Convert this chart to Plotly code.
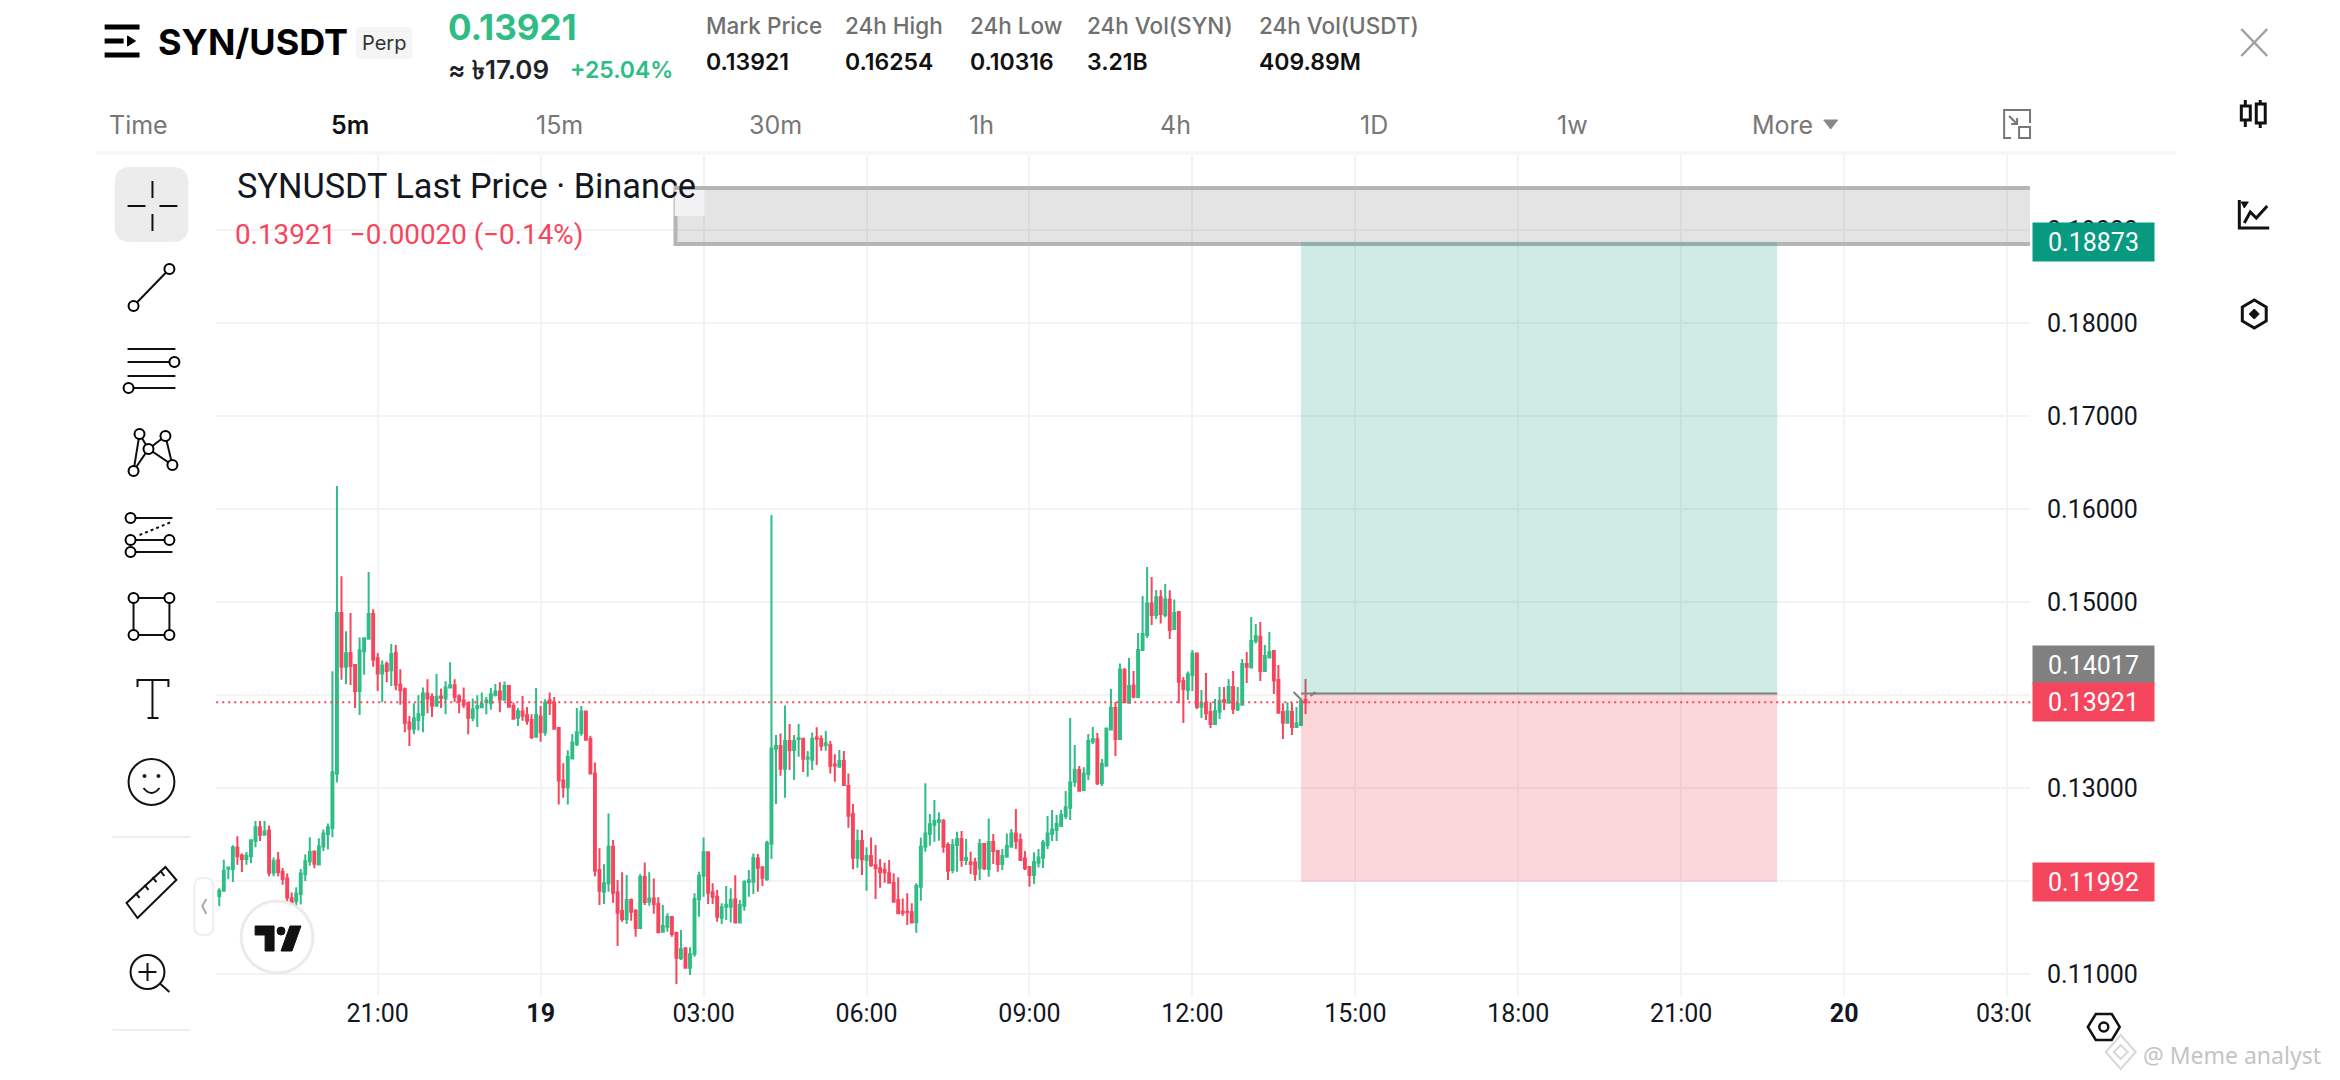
import pandas as pd
import plotly.graph_objects as go

WIDTH = 2340
HEIGHT = 1080

# prices, one value per candle from 18:05 to 14:05 next day
opens = [
    0.11840, 0.11896, 0.12133, 0.12129, 0.12359, 0.12274, 0.12237, 0.12266, 0.12429, 0.12577,
    0.12496, 0.12544, 0.12089, 0.12222, 0.12099, 0.12026, 0.11814, 0.11785, 0.11859, 0.12074,
    0.12211, 0.12318, 0.12177, 0.12370, 0.12503, 0.12570, 0.13152, 0.14881, 0.14304, 0.14452,
    0.14322, 0.14044, 0.14470, 0.14604, 0.14870, 0.14396, 0.14230, 0.14333, 0.14267, 0.14452,
    0.14111, 0.14063, 0.13704, 0.13637, 0.13730, 0.13785, 0.14015, 0.13978, 0.13885, 0.13985,
    0.13963, 0.14081, 0.14104, 0.13985, 0.13941, 0.13915, 0.13755, 0.13859, 0.13867, 0.13926,
    0.13911, 0.14000, 0.14037, 0.13948, 0.14096, 0.13881, 0.13755, 0.13822, 0.13785, 0.13730,
    0.13552, 0.13770, 0.13600, 0.13944, 0.13918, 0.13644, 0.13081, 0.13007, 0.13318, 0.13470,
    0.13592, 0.13822, 0.13526, 0.13155, 0.12118, 0.11885, 0.11975, 0.12369, 0.11878, 0.11677,
    0.11591, 0.11795, 0.11677, 0.11494, 0.12043, 0.11777, 0.11813, 0.11752, 0.11455, 0.11509,
    0.11613, 0.11444, 0.11168, 0.11276, 0.11068, 0.11215, 0.11803, 0.12057, 0.12308, 0.11878,
    0.11831, 0.11606, 0.11724, 0.11724, 0.11803, 0.11555, 0.11735, 0.11989, 0.11993, 0.12243,
    0.12147, 0.12018, 0.12401, 0.13423, 0.13451, 0.13208, 0.13505, 0.13408, 0.13523, 0.13530,
    0.13315, 0.13304, 0.13544, 0.13527, 0.13462, 0.13462, 0.13254, 0.13229, 0.13290, 0.13021,
    0.12720, 0.12251, 0.12430, 0.12226, 0.12269, 0.12168, 0.12136, 0.12118, 0.12082, 0.11982,
    0.11795, 0.11670, 0.11670, 0.11663, 0.11559, 0.11939, 0.12369, 0.12505, 0.12605, 0.12638,
    0.12645, 0.12387, 0.12118, 0.12387, 0.12451, 0.12226, 0.12200, 0.12200, 0.12136, 0.12398,
    0.12129, 0.12419, 0.12322, 0.12182, 0.12261, 0.12369, 0.12512, 0.12440, 0.12243, 0.12150,
    0.12064, 0.12197, 0.12250, 0.12387, 0.12505, 0.12548, 0.12591, 0.12699, 0.12788, 0.13064,
    0.13193, 0.12978, 0.13150, 0.13501, 0.13523, 0.13050, 0.13240, 0.13630, 0.13860, 0.13526,
    0.14268, 0.13917, 0.14103, 0.13978, 0.14483, 0.14645, 0.14985, 0.14860, 0.15050, 0.14860,
    0.15028, 0.14709, 0.14892, 0.14150, 0.14053, 0.14215, 0.14447, 0.13874, 0.13917, 0.13817,
    0.13688, 0.13820, 0.13946, 0.13917, 0.14085, 0.13845, 0.13896, 0.14333, 0.14297, 0.14580,
    0.14623, 0.14257, 0.14404, 0.14473, 0.14161, 0.13817, 0.13702, 0.13817, 0.13655, 0.13677,
    0.13946,
]
highs = [
    0.11922, 0.12229, 0.12144, 0.12385, 0.12481, 0.12296, 0.12311, 0.12444, 0.12644, 0.12644,
    0.12644, 0.12596, 0.12252, 0.12311, 0.12141, 0.12081, 0.11877, 0.11933, 0.12129, 0.12285,
    0.12470, 0.12322, 0.12459, 0.12555, 0.12618, 0.14255, 0.16248, 0.15278, 0.14685, 0.14881,
    0.14333, 0.14618, 0.14618, 0.15322, 0.14922, 0.14452, 0.14370, 0.14359, 0.14548, 0.14537,
    0.14278, 0.14081, 0.13774, 0.13911, 0.13996, 0.14081, 0.14170, 0.14015, 0.14226, 0.14070,
    0.14148, 0.14352, 0.14170, 0.14007, 0.14081, 0.13922, 0.13963, 0.13996, 0.14026, 0.13978,
    0.14074, 0.14118, 0.14137, 0.14144, 0.14096, 0.13918, 0.13859, 0.13989, 0.13870, 0.13792,
    0.14074, 0.13881, 0.13955, 0.14026, 0.13978, 0.13655, 0.13266, 0.13407, 0.13581, 0.13859,
    0.13881, 0.13826, 0.13563, 0.13274, 0.12351, 0.12179, 0.12727, 0.12441, 0.12011, 0.12093,
    0.12064, 0.11813, 0.11699, 0.12075, 0.12200, 0.12093, 0.12028, 0.11824, 0.11742, 0.11652,
    0.11613, 0.11455, 0.11473, 0.11276, 0.11287, 0.11867, 0.12100, 0.12469, 0.12308, 0.11975,
    0.11903, 0.11760, 0.11946, 0.11921, 0.12061, 0.11795, 0.12007, 0.12118, 0.12297, 0.12290,
    0.12147, 0.12433, 0.15935, 0.13570, 0.13587, 0.13888, 0.13688, 0.13570, 0.13688, 0.13541,
    0.13397, 0.13598, 0.13652, 0.13566, 0.13612, 0.13505, 0.13362, 0.13408, 0.13397, 0.13157,
    0.12828, 0.12555, 0.12548, 0.12362, 0.12469, 0.12387, 0.12236, 0.12197, 0.12226, 0.12082,
    0.12039, 0.11813, 0.11867, 0.11760, 0.11975, 0.12469, 0.13050, 0.12720, 0.12871, 0.12738,
    0.12666, 0.12415, 0.12451, 0.12530, 0.12537, 0.12451, 0.12315, 0.12251, 0.12451, 0.12398,
    0.12673, 0.12505, 0.12322, 0.12344, 0.12512, 0.12559, 0.12774, 0.12512, 0.12322, 0.12154,
    0.12308, 0.12344, 0.12440, 0.12698, 0.12763, 0.12709, 0.12763, 0.12967, 0.13752, 0.13462,
    0.13236, 0.13222, 0.13580, 0.13655, 0.13591, 0.13311, 0.13641, 0.14064, 0.13924, 0.14340,
    0.14290, 0.14397, 0.14257, 0.14666, 0.15064, 0.15376, 0.15268, 0.15128, 0.15128, 0.15193,
    0.15125, 0.15028, 0.14899, 0.14193, 0.14254, 0.14483, 0.14447, 0.14053, 0.14236, 0.13921,
    0.13956, 0.14085, 0.14085, 0.14171, 0.14257, 0.14085, 0.14387, 0.14462, 0.14838, 0.14763,
    0.14784, 0.14537, 0.14677, 0.14483, 0.14322, 0.13910, 0.13921, 0.13913, 0.13870, 0.13964,
    0.14171,
]
lows = [
    0.11729, 0.11896, 0.12018, 0.11989, 0.12174, 0.12096, 0.12174, 0.12192, 0.12363, 0.12429,
    0.12496, 0.12052, 0.12052, 0.12052, 0.11959, 0.11748, 0.11711, 0.11729, 0.11748, 0.12000,
    0.12163, 0.12137, 0.12174, 0.12322, 0.12340, 0.12470, 0.13063, 0.14163, 0.14118, 0.14107,
    0.13859, 0.13785, 0.14218, 0.14604, 0.14304, 0.14044, 0.13922, 0.14137, 0.14096, 0.14052,
    0.13896, 0.13600, 0.13452, 0.13578, 0.13618, 0.13600, 0.13804, 0.13763, 0.13885, 0.13859,
    0.13792, 0.14081, 0.13922, 0.13804, 0.13859, 0.13578, 0.13718, 0.13655, 0.13867, 0.13792,
    0.13841, 0.13985, 0.13815, 0.13948, 0.13874, 0.13744, 0.13667, 0.13722, 0.13681, 0.13526,
    0.13552, 0.13496, 0.13563, 0.13785, 0.13626, 0.12822, 0.12896, 0.12822, 0.13318, 0.13452,
    0.13563, 0.13518, 0.13148, 0.12052, 0.11742, 0.11752, 0.11885, 0.11767, 0.11301, 0.11562,
    0.11537, 0.11573, 0.11401, 0.11487, 0.11742, 0.11734, 0.11649, 0.11448, 0.11455, 0.11455,
    0.11401, 0.10892, 0.11150, 0.11068, 0.10989, 0.11186, 0.11616, 0.11831, 0.11752, 0.11752,
    0.11562, 0.11537, 0.11580, 0.11555, 0.11555, 0.11555, 0.11681, 0.11831, 0.11860, 0.11885,
    0.11946, 0.12004, 0.12236, 0.12828, 0.13132, 0.12896, 0.13193, 0.13086, 0.13337, 0.13172,
    0.13122, 0.13193, 0.13247, 0.13401, 0.13401, 0.13157, 0.13068, 0.13229, 0.13025, 0.12573,
    0.12125, 0.12143, 0.12064, 0.11896, 0.12154, 0.11806, 0.11928, 0.11982, 0.11982, 0.11767,
    0.11652, 0.11627, 0.11527, 0.11552, 0.11444, 0.11788, 0.12315, 0.12380, 0.12423, 0.12433,
    0.12304, 0.12011, 0.12082, 0.12100, 0.12154, 0.12172, 0.12075, 0.12003, 0.12011, 0.12118,
    0.12046, 0.12182, 0.12100, 0.12118, 0.12261, 0.12369, 0.12344, 0.12225, 0.12118, 0.11939,
    0.11967, 0.12146, 0.12139, 0.12344, 0.12430, 0.12430, 0.12584, 0.12666, 0.12655, 0.13014,
    0.12967, 0.12971, 0.13086, 0.13473, 0.13032, 0.13021, 0.13236, 0.13623, 0.13344, 0.13516,
    0.13910, 0.13910, 0.13964, 0.13978, 0.14483, 0.14612, 0.14752, 0.14817, 0.14770, 0.14835,
    0.14602, 0.14709, 0.13910, 0.13698, 0.13946, 0.14042, 0.13849, 0.13752, 0.13731, 0.13645,
    0.13688, 0.13741, 0.13838, 0.13910, 0.13795, 0.13827, 0.13892, 0.14128, 0.14290, 0.14555,
    0.14150, 0.14257, 0.14397, 0.14010, 0.13802, 0.13526, 0.13698, 0.13569, 0.13645, 0.13677,
    0.13795,
]
closes = [
    0.11896, 0.12111, 0.12144, 0.12359, 0.12266, 0.12237, 0.12274, 0.12437, 0.12577, 0.12496,
    0.12533, 0.12089, 0.12211, 0.12096, 0.12022, 0.11822, 0.11766, 0.11866, 0.12081, 0.12211,
    0.12311, 0.12185, 0.12370, 0.12511, 0.12577, 0.13170, 0.14881, 0.14304, 0.14448, 0.14311,
    0.14044, 0.14481, 0.14611, 0.14870, 0.14378, 0.14230, 0.14318, 0.14259, 0.14441, 0.14111,
    0.14052, 0.13700, 0.13637, 0.13748, 0.13792, 0.14015, 0.13963, 0.13885, 0.13978, 0.13970,
    0.14081, 0.14104, 0.13978, 0.13933, 0.13896, 0.13755, 0.13844, 0.13881, 0.13904, 0.13941,
    0.14007, 0.14037, 0.13952, 0.14096, 0.13874, 0.13744, 0.13826, 0.13778, 0.13722, 0.13548,
    0.13785, 0.13600, 0.13915, 0.13915, 0.13637, 0.13081, 0.13007, 0.13333, 0.13489, 0.13600,
    0.13822, 0.13518, 0.13155, 0.12111, 0.11896, 0.11975, 0.12369, 0.11874, 0.11659, 0.11591,
    0.11795, 0.11670, 0.11494, 0.12043, 0.11774, 0.11813, 0.11749, 0.11448, 0.11516, 0.11613,
    0.11430, 0.11175, 0.11265, 0.11068, 0.11211, 0.11806, 0.12057, 0.12308, 0.11874, 0.11831,
    0.11616, 0.11717, 0.11742, 0.11795, 0.11555, 0.11742, 0.11989, 0.12007, 0.12247, 0.12143,
    0.12036, 0.12408, 0.13426, 0.13451, 0.13208, 0.13505, 0.13405, 0.13505, 0.13534, 0.13315,
    0.13329, 0.13527, 0.13530, 0.13455, 0.13480, 0.13240, 0.13243, 0.13290, 0.13032, 0.12702,
    0.12251, 0.12430, 0.12233, 0.12269, 0.12168, 0.12136, 0.12093, 0.12093, 0.11982, 0.11777,
    0.11652, 0.11659, 0.11663, 0.11555, 0.11946, 0.12369, 0.12512, 0.12609, 0.12645, 0.12656,
    0.12369, 0.12111, 0.12387, 0.12451, 0.12226, 0.12247, 0.12182, 0.12075, 0.12398, 0.12136,
    0.12419, 0.12322, 0.12182, 0.12268, 0.12376, 0.12512, 0.12430, 0.12225, 0.12136, 0.12064,
    0.12204, 0.12254, 0.12412, 0.12512, 0.12555, 0.12612, 0.12709, 0.12792, 0.13060, 0.13193,
    0.12971, 0.13157, 0.13505, 0.13523, 0.13050, 0.13258, 0.13641, 0.13860, 0.13526, 0.14275,
    0.13921, 0.14096, 0.13982, 0.14483, 0.14655, 0.14985, 0.14860, 0.15050, 0.14870, 0.15028,
    0.14698, 0.14881, 0.14143, 0.14064, 0.14222, 0.14447, 0.13874, 0.13910, 0.13803, 0.13688,
    0.13824, 0.13935, 0.13928, 0.14085, 0.13853, 0.13903, 0.14333, 0.14304, 0.14580, 0.14634,
    0.14257, 0.14419, 0.14462, 0.14157, 0.13809, 0.13702, 0.13824, 0.13655, 0.13695, 0.13938,
    0.13921,
]

entry_price = 0.14017
target_price = 0.18873
stop_price = 0.11992
last_price = 0.13921
zone_top_price = 0.19452

position_start = "2025-01-19 14:00"
position_end = "2025-01-19 22:46"
zone_start = "2025-01-19 02:29"
zone_end = "2025-01-20 06:00"

time_tick_values = [
    "2025-01-18 21:00", "2025-01-19 00:00", "2025-01-19 03:00", "2025-01-19 06:00",
    "2025-01-19 09:00", "2025-01-19 12:00", "2025-01-19 15:00", "2025-01-19 18:00",
    "2025-01-19 21:00", "2025-01-20 00:00", "2025-01-20 03:00",
]
time_tick_labels = ["21:00", "<b>19</b>", "03:00", "06:00", "09:00", "12:00", "15:00", "18:00", "21:00", "<b>20</b>", "03:00"]
price_tick_values = [0.11, 0.12, 0.13, 0.14, 0.15, 0.16, 0.17, 0.18, 0.19]

header_stats = [
    ("Mark Price", "0.13921", 707),
    ("24h High", "0.16254", 847),
    ("24h Low", "0.10316", 972),
    ("24h Vol(SYN)", "3.21B", 1090),
    ("24h Vol(USDT)", "409.89M", 1262),
]
intervals = [("Time", 139), ("5m", 351), ("15m", 561), ("30m", 778), ("1h", 985), ("4h", 1180), ("1D", 1379), ("1w", 1578), ("More", 1789)]

GREEN = "#2EBD85"
RED = "#F6465D"
TEAL = "#089981"
GREY = "#808080"
TEXT = "#131722"
GRID = "#F3F3F3"

shapes = []
annotations = []


def fx(x):
    return x / WIDTH


def fy(y):
    return 1 - y / HEIGHT


def add_path(d, color="#000000", width=2, fill=None, dash=None):
    line = dict(color=color, width=width)
    if dash:
        line["dash"] = dash
    shape = dict(type="path", path=d, xref="paper", yref="paper", layer="above", line=line)
    if fill:
        shape["fillcolor"] = fill
    shapes.append(shape)


def polyline(points, color="#000000", width=2, fill=None, close=False, dash=None):
    d = " ".join(f"{'M' if i == 0 else 'L'} {fx(x):.5f} {fy(y):.5f}" for i, (x, y) in enumerate(points))
    if close:
        d += " Z"
    add_path(d, color, width, fill, dash)


def circle(cx, cy, r, color="#000000", width=2, fill="#FFFFFF"):
    shapes.append(dict(type="circle", xref="paper", yref="paper", layer="above",
                       x0=fx(cx - r), x1=fx(cx + r), y0=fy(cy + r), y1=fy(cy - r),
                       line=dict(color=color, width=width), fillcolor=fill))


def round_rect(x0, y0, x1, y1, r, color="rgba(0,0,0,0)", width=0, fill="#FFFFFF"):
    d = (f"M {fx(x0 + r):.5f} {fy(y0):.5f} L {fx(x1 - r):.5f} {fy(y0):.5f} Q {fx(x1):.5f} {fy(y0):.5f} {fx(x1):.5f} {fy(y0 + r):.5f} "
         f"L {fx(x1):.5f} {fy(y1 - r):.5f} Q {fx(x1):.5f} {fy(y1):.5f} {fx(x1 - r):.5f} {fy(y1):.5f} "
         f"L {fx(x0 + r):.5f} {fy(y1):.5f} Q {fx(x0):.5f} {fy(y1):.5f} {fx(x0):.5f} {fy(y1 - r):.5f} "
         f"L {fx(x0):.5f} {fy(y0 + r):.5f} Q {fx(x0):.5f} {fy(y0):.5f} {fx(x0 + r):.5f} {fy(y0):.5f} Z")
    add_path(d, color, width, fill)


def label(text, x, y, size, color=TEXT, family="Inter", weight=400, anchor="left"):
    annotations.append(dict(text=text, xref="paper", yref="paper", x=fx(x), y=fy(y), xanchor=anchor, yanchor="middle",
                            showarrow=False, borderpad=0, font=dict(family=family, size=size, color=color, weight=weight)))


def price_tag(text, price, color, shift=0):
    annotations.append(dict(text=text, xref="paper", yref="y", x=fx(2039), y=price, yshift=shift, xanchor="left", yanchor="middle",
                            showarrow=False, bgcolor=color, width=121, height=38, borderpad=0, align="center",
                            font=dict(family="Roboto", size=25, color="#FFFFFF")))


# position and zone boxes, these sit on the price axis
shapes.append(dict(type="rect", xref="x", yref="y", x0=zone_start, x1=zone_end, y0=target_price - 0.00024, y1=zone_top_price,
                   layer="above", line=dict(color="#B5B5B5", width=4), fillcolor="rgba(120,120,120,0.2)"))
shapes.append(dict(type="rect", xref="x", yref="y", x0=position_start, x1=position_end, y0=entry_price, y1=target_price,
                   layer="above", line=dict(width=0), fillcolor="rgba(8,153,129,0.2)"))
shapes.append(dict(type="rect", xref="x", yref="y", x0=position_start, x1=position_end, y0=stop_price, y1=entry_price,
                   layer="above", line=dict(width=0), fillcolor="rgba(242,54,69,0.2)"))
shapes.append(dict(type="line", xref="x", yref="y", x0=position_start, x1=position_end, y0=entry_price, y1=entry_price,
                   layer="above", line=dict(color=GREY, width=2)))
shapes.append(dict(type="line", xref="paper", yref="y", x0=fx(217), x1=fx(2039), y0=last_price, y1=last_price,
                   layer="above", line=dict(color=RED, width=2, dash="2px,4px")))

# small grey cursor marks at the start of the position
polyline([(1298, 692), (1305, 699)], GREY, 2)
polyline([(1315, 696), (1320, 692)], GREY, 2)

# covers the right end of the last time label, as the price panel does
shapes.append(dict(type="rect", xref="paper", yref="paper", x0=fx(2037.5), x1=fx(2100), y0=fy(1050), y1=fy(1003),
                   layer="above", line=dict(width=0), fillcolor="#FFFFFF"))

# separator under the interval row
shapes.append(dict(type="rect", xref="paper", yref="paper", x0=fx(96), x1=fx(2183), y0=fy(155), y1=fy(151),
                   layer="above", line=dict(width=0), fillcolor="#F7F7F7"))

# header
polyline([(105, 27), (140, 27)], "#000000", 5)
polyline([(105, 41), (124, 41)], "#000000", 5)
polyline([(105, 55), (140, 55)], "#000000", 5)
polyline([(128, 36), (136, 41), (128, 46)], "#000000", 1, fill="#000000", close=True)
label("SYN/USDT", 158, 42, 36, "#000000", weight=700)
round_rect(357, 27, 414, 59, 5, fill="#F5F5F5")
label("Perp", 385.5, 43, 20, "#333333", anchor="center")
label("0.13921", 449, 27, 35, GREEN, weight=700)
label("≈ ৳17.09", 449, 70, 26, "#1E2329", weight=600)
label("+25.04%", 571, 70, 23, GREEN, weight=600)
for name, value, x in header_stats:
    label(name, x, 26, 22.5, "#707070", weight=500)
    label(value, x, 62, 23, "#111111", weight=600)

# interval row
for name, x in intervals:
    if name == "5m":
        label(name, x, 125, 25, "#111111", weight=600, anchor="center")
    else:
        label(name, x, 125, 25, "#777777", anchor="center")
polyline([(1830, 120), (1844, 120), (1837, 129)], "#888888", 1, fill="#888888", close=True)
polyline([(2037, 123), (2037, 110), (2011, 110), (2011, 138), (2018, 138)], "#777777", 2)
polyline([(2016, 116), (2024, 124)], "#777777", 2)
polyline([(2018, 124), (2024, 124), (2024, 118)], "#777777", 2)
polyline([(2026, 127), (2037, 127), (2037, 138), (2026, 138)], "#777777", 2, close=True)

# legend text on the chart
round_rect(677, 190, 707, 216, 0, fill="#F2F2F2")
label("SYNUSDT Last Price · Binance", 237, 186, 34.3, TEXT, family="Roboto")
label("0.13921  −0.00020 (−0.14%)", 235, 235, 27.8, RED, family="Roboto")

# drawing toolbar
round_rect(115, 167, 189, 242, 16, fill="#ECECEC")
polyline([(128, 206), (146, 206)], "#111111", 2)
polyline([(160, 206), (178, 206)], "#111111", 2)
polyline([(153, 181), (153, 198)], "#111111", 2)
polyline([(153, 214), (153, 231)], "#111111", 2)

polyline([(134, 306), (170, 269)], "#111111", 2)
circle(134, 306, 5)
circle(170, 269, 5)

for y in (349, 362, 376, 388):
    polyline([(128, y), (176, y)], "#111111", 2)
circle(175, 362, 5)
circle(129, 388, 5)

polyline([(134, 471), (140, 434), (149, 449), (166, 436), (173, 465), (149, 449), (134, 471)], "#111111", 2)
for cx, cy in ((140, 434), (166, 436), (149, 449), (134, 471), (173, 465)):
    circle(cx, cy, 5)

polyline([(131, 518), (173, 518)], "#111111", 2)
polyline([(131, 540), (170, 540)], "#111111", 2)
polyline([(131, 552), (173, 552)], "#111111", 2)
polyline([(140, 535), (172, 522)], "#111111", 2, dash="dot")
for cx, cy in ((131, 518), (131, 540), (170, 540), (131, 552)):
    circle(cx, cy, 5)

polyline([(134, 598), (170, 598), (170, 635), (134, 635)], "#111111", 2, close=True)
for cx, cy in ((134, 598), (170, 598), (134, 635), (170, 635)):
    circle(cx, cy, 5)

polyline([(138, 687), (138, 680), (169, 680), (169, 687)], "#111111", 2)
polyline([(153, 680), (153, 718)], "#111111", 2)
polyline([(148, 718), (159, 718)], "#111111", 2)

circle(152, 782, 23, "#111111", 2)
circle(145, 776, 1.5, "#111111", 1, "#111111")
circle(159, 776, 1.5, "#111111", 1, "#111111")
add_path(f"M {fx(144):.5f} {fy(788):.5f} Q {fx(152):.5f} {fy(798):.5f} {fx(160):.5f} {fy(788):.5f}", "#111111", 2)

polyline([(113, 837), (191, 837)], "#EEEEEE", 2)

polyline([(127, 903), (138, 918), (177, 880), (166, 867)], "#111111", 2, close=True)
for x, y in ((136, 893), (145, 885), (153, 877), (161, 871)):
    polyline([(x, y), (x + 4, y + 5)], "#111111", 2)

circle(148, 972, 17, "#111111", 2)
polyline([(139, 972), (157, 972)], "#111111", 2)
polyline([(148, 963), (148, 981)], "#111111", 2)
polyline([(161, 984), (170, 992)], "#111111", 2)

polyline([(113, 1030), (191, 1030)], "#EEEEEE", 2)

round_rect(195, 878, 214, 935, 8, color="#EEEEEE", width=2, fill="#FFFFFF")
polyline([(207, 899), (203, 906), (207, 914)], "#AAAAAA", 2)

# tradingview badge
circle(278, 937, 36, "#EBEBEB", 3)
polyline([(256, 926), (275, 926), (275, 951), (266, 951), (266, 935), (256, 935)], "#111111", 1, fill="#111111", close=True)
circle(282, 931, 4, "#111111", 1, "#111111")
polyline([(291, 926), (302, 926), (293, 951), (282, 951)], "#111111", 1, fill="#111111", close=True)

# right panel icons
polyline([(2249, 29), (2275, 56)], "#A0A0A0", 2.5)
polyline([(2275, 29), (2249, 56)], "#A0A0A0", 2.5)

polyline([(2253, 100), (2253, 127)], "#111111", 3)
polyline([(2268, 100), (2268, 128)], "#111111", 3)
polyline([(2249, 106), (2258, 106), (2258, 120), (2249, 120)], "#111111", 3, fill="#FFFFFF", close=True)
polyline([(2264, 104), (2273, 104), (2273, 123), (2264, 123)], "#111111", 3, fill="#FFFFFF", close=True)

polyline([(2247, 200), (2247, 228), (2277, 228)], "#111111", 3)
polyline([(2252, 223), (2258, 212), (2264, 218), (2275, 206)], "#111111", 3)
polyline([(2249, 202), (2256, 202), (2252, 208)], "#111111", 1, fill="#111111", close=True)

polyline([(2262, 300), (2274, 307), (2274, 321), (2262, 328), (2250, 321), (2250, 307)], "#111111", 3, close=True)
polyline([(2262, 309), (2267, 314), (2262, 319), (2257, 314)], "#111111", 1, fill="#111111", close=True)

polyline([(2095, 1027), (2103, 1014), (2119, 1014), (2127, 1027), (2119, 1040), (2103, 1040)], "#111111", 2.5, close=True)
circle(2111, 1027, 4.5, "#111111", 2.5)

# watermark
polyline([(2128, 1035), (2143, 1052), (2128, 1069), (2113, 1052)], "#D8D8D8", 2, close=True)
polyline([(2128, 1045), (2135, 1052), (2128, 1059), (2121, 1052)], "#D8D8D8", 2, close=True)
label("@ Meme analyst", 2149, 1055, 23, "#C4C4C4", family="Noto Sans")

# price tags on the axis, the entry tag is pushed up to clear the last price tag
price_tag("0.18873", target_price, TEAL)
price_tag("0.14017", entry_price, GREY, shift=28)
price_tag("0.13921", last_price, RED)
price_tag("0.11992", stop_price, RED)

times = pd.date_range("2025-01-18 18:05", periods=len(opens), freq="5min")

fig = go.Figure()
fig.add_trace(go.Candlestick(
    x=times,
    open=opens,
    high=highs,
    low=lows,
    close=closes,
    increasing=dict(line=dict(color=GREEN, width=2), fillcolor=GREEN),
    decreasing=dict(line=dict(color=RED, width=2), fillcolor=RED),
    whiskerwidth=0,
    showlegend=False,
))

fig.update_layout(
    width=WIDTH,
    height=HEIGHT,
    autosize=False,
    margin=dict(l=0, r=0, t=0, b=0, pad=0),
    paper_bgcolor="#FFFFFF",
    plot_bgcolor="#FFFFFF",
    showlegend=False,
    boxgap=0.4,
    shapes=shapes,
    annotations=annotations,
    font=dict(family="Roboto", color=TEXT),
)
fig.update_xaxes(
    domain=[217 / WIDTH, 2037 / WIDTH],
    range=["2025-01-18 18:01:40", "2025-01-20 03:25:20"],
    rangeslider_visible=False,
    tickmode="array",
    tickvals=time_tick_values,
    ticktext=time_tick_labels,
    tickfont=dict(family="Roboto", size=25, color=TEXT),
    showgrid=True,
    gridcolor=GRID,
    gridwidth=2,
    ticks="",
    showline=False,
    zeroline=False,
)
fig.update_yaxes(
    domain=[1 - 996 / HEIGHT, 1 - 151 / HEIGHT],
    range=[0.107634, 0.198495],
    side="right",
    tickmode="array",
    tickvals=price_tick_values,
    tickformat=".5f",
    tickfont=dict(family="Roboto", size=25, color=TEXT),
    ticklabelstandoff=16,
    showgrid=True,
    gridcolor=GRID,
    gridwidth=2,
    ticks="",
    showline=False,
    zeroline=False,
)

fig.write_html("out.html", config={"displayModeBar": False},
               post_script="document.body.style.margin='0';document.body.style.overflow='hidden';")
